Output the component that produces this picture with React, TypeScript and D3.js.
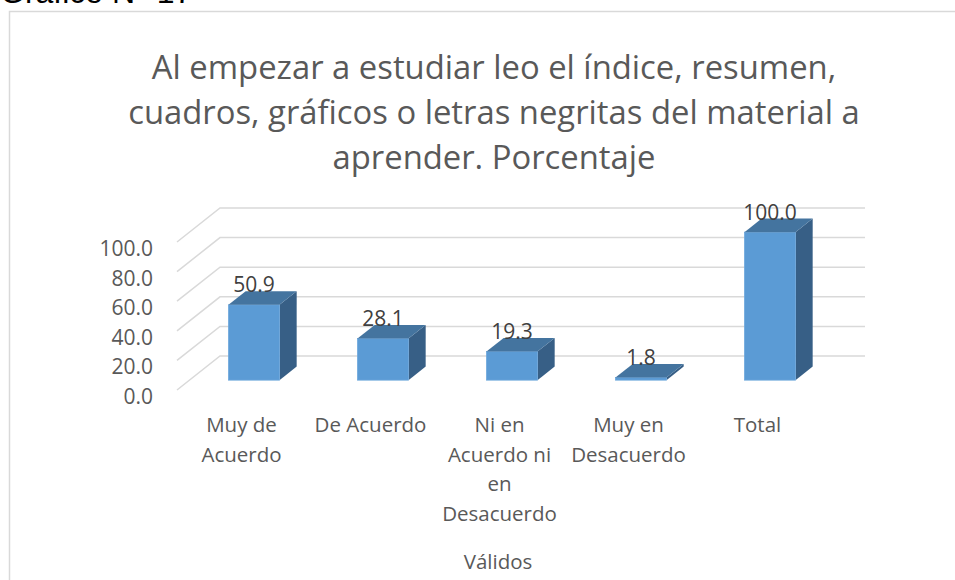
import React from "react";
import * as d3 from "d3";

const categories: string[][] = [
  ["Muy de", "Acuerdo"],
  ["De Acuerdo"],
  ["Ni en", "Acuerdo ni", "en", "Desacuerdo"],
  ["Muy en", "Desacuerdo"],
  ["Total"],
];
const values: number[] = [50.9, 28.1, 19.3, 1.8, 100.0];
const yTicks: number[] = [0, 20, 40, 60, 80, 100];
const titleLines: string[] = [
  "Al empezar a estudiar leo el índice, resumen,",
  "cuadros, gráficos o letras negritas del material a",
  "aprender. Porcentaje",
];
const xAxisTitle = "Válidos";
const figureLabel = "Gráfico N° 17";

const W = 955;
const H = 580;
const FONT = "'Open Sans', sans-serif";

export default function App() {
  const x0 = 177, x1 = 822;
  const depthX = 43, depthY = -34;
  const gridRight = 865;
  const y = d3.scaleLinear().domain([0, 100]).range([390, 242]);
  const xb = d3.scaleBand<number>().domain(d3.range(values.length)).range([x0, x1]);
  const barW = 51;
  const zStart = 0.29, zDepth = 0.4;

  const catKeys = d3.range(values.length);

  return (
    <svg width={W} height={H} style={{ position: "absolute", left: 0, top: 0, background: "#fff" }}>
      <text x={0} y={3} fontFamily="'Liberation Sans', Arial, sans-serif" fontSize={32} fill="#000">{figureLabel}</text>
      <rect x={9.5} y={11.5} width={W + 10} height={H + 10} fill="#fff" stroke="#d9d9d9" strokeWidth={1.5} />
      {titleLines.map((t, i) => (
        <text key={i} x={494} y={79 + i * 45} textAnchor="middle" fontFamily={FONT} fontSize={32.8} fill="#595959">{t}</text>
      ))}
      {yTicks.map((v) => {
        const yf = y(v);
        const p = d3.path();
        p.moveTo(x0, yf);
        p.lineTo(x0 + depthX, yf + depthY);
        p.lineTo(gridRight, yf + depthY);
        return <path key={v} d={p.toString()} fill="none" stroke="#d9d9d9" strokeWidth={1.5} />;
      })}
      {yTicks.map((v) => (
        <text key={v} x={153} y={y(v) + 14} textAnchor="end" fontFamily={FONT} fontSize={21} fill="#595959">{v.toFixed(1)}</text>
      ))}
      {catKeys.map((i) => {
        const v = values[i];
        const cx = (xb(i) as number) + xb.bandwidth() / 2 + zStart * depthX;
        const base = y(0) + zStart * depthY;
        const top = base - (y(0) - y(v));
        const l = cx - barW / 2, r = cx + barW / 2;
        const dx = zDepth * depthX, dy = zDepth * depthY;
        const side = `M${r},${top}L${r + dx},${top + dy}L${r + dx},${base + dy}L${r},${base}Z`;
        const topF = `M${l},${top}L${l + dx},${top + dy}L${r + dx},${top + dy}L${r},${top}Z`;
        return (
          <g key={i}>
            <path d={side} fill="#375F86" />
            <rect x={l} y={top} width={barW} height={base - top} fill="#5B9BD5" stroke="#6FA8DC" strokeWidth={0.8} />
            <path d={topF} fill="#44749F" />
            <text x={cx} y={top + dy + 1} textAnchor="middle" fontFamily={FONT} fontSize={21} fill="#404040">{v.toFixed(1)}</text>
          </g>
        );
      })}
      {catKeys.map((i) => (
        <text key={i} textAnchor="middle" fontFamily={FONT} fontSize={20.5} fill="#595959">
          {categories[i].map((ln, j) => (
            <tspan key={j} x={(xb(i) as number) + xb.bandwidth() / 2} y={432 + j * 29.5}>{ln}</tspan>
          ))}
        </text>
      ))}
      <text x={498} y={569} textAnchor="middle" fontFamily={FONT} fontSize={20.5} fill="#595959">{xAxisTitle}</text>
    </svg>
  );
}
